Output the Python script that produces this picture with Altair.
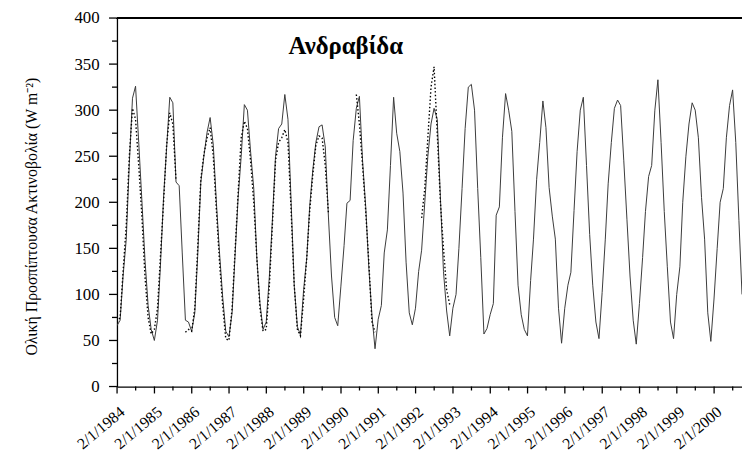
import altair as alt
import pandas as pd

# Monthly total incident radiation, Andravida (W m-2), Jan 1984 - Oct 2000 (solid)
solid = [
    66, 72, 120, 160, 242, 313, 326, 265, 202, 138, 88, 62,      # 1984
    50, 72, 130, 205, 259, 314, 308, 222, 218, 145, 72, 70,      # 1985
    60, 80, 141, 222, 250, 276, 292, 262, 198, 145, 97, 60,      # 1986
    54, 80, 140, 205, 250, 306, 300, 255, 215, 140, 90, 62,      # 1987
    70, 120, 180, 250, 280, 285, 317, 290, 200, 110, 65, 56,     # 1988
    105, 140, 195, 235, 265, 282, 284, 260, 184, 120, 75, 66,    # 1989
    109, 153, 199, 202, 267, 302, 315, 245, 195, 130, 77, 41,    # 1990
    73, 88, 145, 170, 240, 314, 275, 255, 210, 135, 80, 67,      # 1991
    85, 125, 148, 200, 250, 285, 302, 290, 205, 125, 82, 55,     # 1992
    85, 100, 150, 215, 280, 325, 328, 300, 215, 140, 57, 63,     # 1993
    78, 90, 186, 195, 270, 318, 300, 277, 190, 110, 78, 62,      # 1994
    55, 115, 160, 225, 265, 310, 281, 216, 185, 160, 85, 47,     # 1995
    85, 110, 124, 191, 255, 300, 314, 240, 165, 110, 70, 52,     # 1996
    102, 160, 220, 265, 302, 311, 305, 245, 181, 120, 72, 46,    # 1997
    90, 140, 190, 228, 240, 300, 333, 265, 190, 130, 70, 52,     # 1998
    100, 130, 200, 250, 285, 308, 300, 270, 205, 160, 80, 49,    # 1999
    95, 150, 200, 215, 270, 305, 322, 265, 180, 100,             # 2000 (to Oct)
]

# Second (dotted) series, Jan 1984 - Dec 1992, None = missing
dotted = [
    70, 75, 125, 175, 250, 302, 290, 240, 185, 120, 75, 57,      # 1984
    62, 85, 140, 200, 262, 297, 285, 224, None, None, 59, 62,    # 1985
    60, 85, 150, 225, 252, 270, 281, 250, 190, 135, 88, 52,      # 1986
    50, 85, 145, 210, 270, 288, 280, 245, 200, 140, 85, 60,      # 1987
    62, 110, 175, 245, 265, 270, 279, 265, 190, 110, 62, 55,     # 1988
    95, 140, 190, 230, 262, 272, 270, 240, 188, None, None, None,  # 1989
    None, None, None, None, None, 317, 285, 240, 190, 135, 70, 59,  # 1990
    None, None, None, None, None, None, None, None, None, None, None, None,  # 1991
    None, None, 183, 215, 270, 325, 347, 275, 200, 150, 105, 89,  # 1992
]

major_years = list(range(1984, 2001))
y_major = list(range(0, 401, 50))
y_minor = list(range(25, 400, 50))
station = "Ανδραβίδα"
y_title = "Ολική Προσπίπτουσα Ακτινοβολία (W m⁻²)"

dates_s = pd.date_range("1984-01-01", periods=len(solid), freq="MS")
dates_d = pd.date_range("1984-01-01", periods=len(dotted), freq="MS")

rows = []
for d, v in zip(dates_s, solid):
    rows.append({"date": d, "value": v, "series": "solid", "seg": "s0"})
seg = 0
for d, v in zip(dates_d, dotted):
    if v is None:
        seg += 1
        continue
    rows.append({"date": d, "value": v, "series": "dotted", "seg": f"d{seg}"})
df = pd.DataFrame(rows)

x_major = [alt.DateTime(year=yv, month=1, date=2) for yv in major_years]
xtick_df = pd.DataFrame({
    "date": [pd.Timestamp(yv, 1, 2) for yv in major_years] + [pd.Timestamp(yv, 7, 2) for yv in major_years],
    "kind": ["major"] * len(major_years) + ["minor"] * len(major_years),
})
ytick_df = pd.DataFrame({
    "value": y_major + y_minor,
    "kind": ["major"] * len(y_major) + ["minor"] * len(y_minor),
})

W, H = 631, 372
SERIF = "Liberation Serif"

x_scale = alt.Scale(domain=[alt.DateTime(year=1984, month=1, date=1),
                            alt.DateTime(year=2000, month=10, date=1)], nice=False)
y_scale = alt.Scale(domain=[0, 400], nice=False)

x_axis = alt.Axis(
    orient="bottom",
    values=x_major,
    format="%-d/%-m/%Y",
    labelAngle=320,
    labelAlign="right",
    labelBaseline="top",
    labelPadding=17,
    labelOverlap=False,
    labelFont=SERIF,
    labelFontSize=16,
    labelColor="black",
    ticks=False,
    domainColor="black", domainWidth=1.3,
    grid=False,
    title=None,
)
y_axis = alt.Axis(
    orient="left",
    values=y_major,
    ticks=False,
    domainColor="black", domainWidth=1.3,
    grid=False,
    labelPadding=18,
    labelFont=SERIF,
    labelFontSize=17,
    labelColor="black",
    labelOverlap=False,
    title=y_title,
    titleFont=SERIF,
    titleFontSize=16,
    titleFontWeight="normal",
    titleColor="black",
    titleAngle=270,
    titleX=-86,
    titleY=200,
    titleAlign="center",
    titleBaseline="middle",
)

X = alt.X("date:T", scale=x_scale, axis=x_axis)
Y = alt.Y("value:Q", scale=y_scale, axis=y_axis)

solid_line = alt.Chart(df).transform_filter(alt.datum.series == "solid").mark_line(
    color="#3a3a3a", strokeWidth=1, clip=True
).encode(x=X, y=Y, detail="seg:N")
dotted_line = alt.Chart(df).transform_filter(alt.datum.series == "dotted").mark_line(
    color="black", strokeWidth=1.4, strokeDash=[1.5, 2.2], clip=True
).encode(x=X, y=Y, detail="seg:N")

# axis tick marks (major and minor), positioned through the shared scales
x_ticks_major = alt.Chart(xtick_df).transform_filter(alt.datum.kind == "major").mark_rule(
    color="black", strokeWidth=1.3).encode(x=X, y=alt.value(H), y2=alt.value(H + 7))
x_ticks_minor = alt.Chart(xtick_df).transform_filter(alt.datum.kind == "minor").mark_rule(
    color="black", strokeWidth=1.3).encode(x=X, y=alt.value(H), y2=alt.value(H + 4))
y_ticks_major = alt.Chart(ytick_df).transform_filter(alt.datum.kind == "major").mark_rule(
    color="black", strokeWidth=1.3).encode(y=Y, x=alt.value(-8), x2=alt.value(0))
y_ticks_minor = alt.Chart(ytick_df).transform_filter(alt.datum.kind == "minor").mark_rule(
    color="black", strokeWidth=1.3).encode(y=Y, x=alt.value(-5), x2=alt.value(0))

top_frame = alt.Chart(df).mark_rule(color="black", strokeWidth=1.3).encode(
    x=alt.value(0), x2=alt.value(W), y=alt.value(0)
)
title_text = alt.Chart(pd.DataFrame({"t": [station]})).mark_text(
    font=SERIF, fontSize=25, fontWeight="bold", color="black",
    align="center", baseline="middle"
).encode(text="t:N", x=alt.value(231), y=alt.value(28))

chart = alt.layer(
    solid_line, dotted_line,
    x_ticks_major, x_ticks_minor, y_ticks_major, y_ticks_minor,
    top_frame, title_text,
).properties(
    width=W, height=H,
    background="white",
    autosize=alt.AutoSizeParams(type="none"),
    padding={"left": 110, "top": 8, "right": 0, "bottom": 69},
).configure_view(stroke=None).configure_axis(grid=False)

chart.save("out.html", embed_options={"renderer": "svg", "actions": False})
